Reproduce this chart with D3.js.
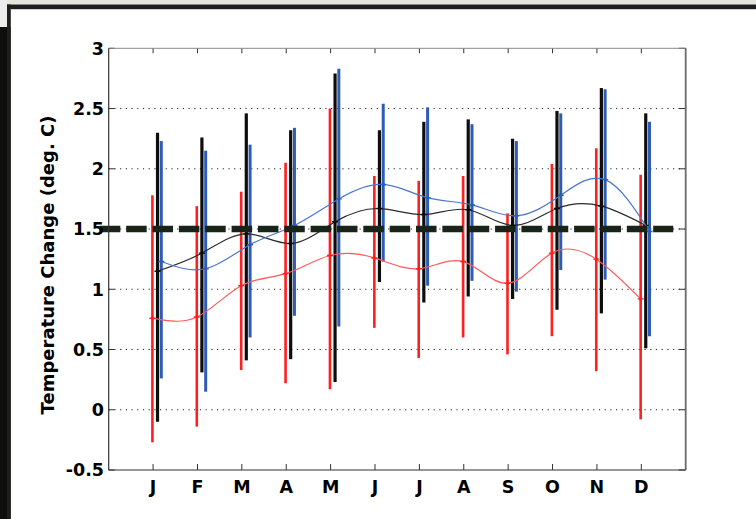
<!DOCTYPE html>
<html><head><meta charset="utf-8">
<script src="https://cdn.jsdelivr.net/npm/d3@7"></script>
<style>body{margin:0;background:#fff}svg{display:block}</style>
</head><body><svg id="c" width="756" height="519"></svg>
<script>
// ---- data ----
const months = ["J","F","M","A","M","J","J","A","S","O","N","D"];
const yTicks = [-0.5, 0, 0.5, 1, 1.5, 2, 2.5, 3];
const yTickLabels = ["-0.5","0","0.5","1","1.5","2","2.5","3"];
const threshold = 1.5;

const redLow   = [-0.27,-0.14,0.33,0.22,0.17,0.68,0.43,0.60,0.46,0.61,0.32,-0.08];
const redHigh  = [1.78,1.69,1.81,2.05,2.50,1.94,1.90,1.94,1.63,2.04,2.17,1.95];
const redMean  = [0.76,0.77,1.03,1.13,1.28,1.26,1.17,1.23,1.05,1.30,1.25,0.92];

const blackLow  = [-0.10,0.31,0.41,0.42,0.23,1.06,0.89,0.94,0.92,0.83,0.80,0.51];
const blackHigh = [2.30,2.26,2.46,2.32,2.79,2.32,2.39,2.41,2.25,2.48,2.67,2.46];
const blackMean = [1.15,1.30,1.46,1.38,1.56,1.67,1.62,1.66,1.53,1.67,1.69,1.53];

const blueLow  = [0.26,0.15,0.60,0.78,0.69,1.23,1.03,1.07,0.98,1.16,1.08,0.61];
const blueHigh = [2.23,2.15,2.20,2.34,2.83,2.54,2.51,2.37,2.23,2.46,2.66,2.39];
const blueMean = [1.23,1.17,1.37,1.53,1.75,1.87,1.76,1.70,1.61,1.78,1.91,1.48];

// ---- layout ----
const svg = d3.select("#c");
const L = 108.7, R = 685.7, T = 48.3, B = 470;
const x = d3.scaleLinear().domain([0, 13]).range([L, R]);
const y = d3.scaleLinear().domain([-0.5, 3]).range([B, T]);

// background frame
svg.append("rect").attr("x",0).attr("y",0).attr("width",756).attr("height",519).attr("fill","#fff");
svg.append("rect").attr("x",0).attr("y",0).attr("width",756).attr("height",4.5).attr("fill","#e3e6dc");
svg.append("rect").attr("x",0).attr("y",0).attr("width",7).attr("height",27).attr("fill","#ececec");
svg.append("rect").attr("x",0).attr("y",27).attr("width",10.5).attr("height",492).attr("fill","#0e0f0c");
svg.append("rect").attr("x",7).attr("y",4.5).attr("width",749).attr("height",4.5).attr("fill","#1e1e1e");
svg.append("rect").attr("x",7).attr("y",4.5).attr("width",3.8).attr("height",514.5).attr("fill","#1e1e1e");
svg.append("rect").attr("x",10.8).attr("y",9).attr("width",745).attr("height",1).attr("fill","#cfcfcf");

const font = "'DejaVu Sans', sans-serif";

// grid
yTicks.forEach(v => {
  if (v === -0.5 || v === 3) return;
  svg.append("line").attr("x1",L).attr("x2",R).attr("y1",y(v)).attr("y2",y(v))
    .attr("stroke","#222").attr("stroke-width",1).attr("stroke-dasharray","1.2,4.5");
});

// ticks
yTicks.forEach(v => {
  svg.append("line").attr("x1",L).attr("x2",L+6).attr("y1",y(v)).attr("y2",y(v)).attr("stroke","#333");
  svg.append("line").attr("x1",R-7).attr("x2",R).attr("y1",y(v)).attr("y2",y(v)).attr("stroke","#333");
});
months.forEach((m,i) => {
  const xi = x(i+1);
  svg.append("line").attr("x1",xi).attr("x2",xi).attr("y1",B).attr("y2",B-6).attr("stroke","#333");
  svg.append("line").attr("x1",xi).attr("x2",xi).attr("y1",T).attr("y2",T+5).attr("stroke","#333");
});

// series
const series = [
  {low: redLow,   high: redHigh,   mean: redMean,   off: -0.015, bar: "#ff1f1f", line: "#ff5a5a", w: 2.6},
  {low: blackLow, high: blackHigh, mean: blackMean, off: 0.10,   bar: "#0d0d0d", line: "#2a2a2a", w: 3.2},
  {low: blueLow,  high: blueHigh,  mean: blueMean,  off: 0.185,  bar: "#2c5cb5", line: "#4a78cc", w: 3.0}
];

series.forEach(s => {
  svg.append("g").selectAll("line").data(months).join("line")
    .attr("x1",(d,i)=>x(i+1+s.off)).attr("x2",(d,i)=>x(i+1+s.off))
    .attr("y1",(d,i)=>y(s.low[i])).attr("y2",(d,i)=>y(s.high[i]))
    .attr("stroke", s.bar).attr("stroke-width", s.w);
});

const lineGen = d3.line().x(d=>x(d[0])).y(d=>y(d[1])).curve(d3.curveNatural);
series.forEach(s => {
  const pts = s.mean.map((v,i)=>[i+1+s.off, v]);
  svg.append("path").attr("d", lineGen(pts)).attr("fill","none")
    .attr("stroke", s.line).attr("stroke-width",1.2);
  const g = svg.append("g");
  pts.forEach(p => {
    const px = x(p[0]), py = y(p[1]);
    g.append("path").attr("d",`M${px-3},${py}H${px+3}M${px},${py-3}V${py+3}`)
      .attr("stroke", s.bar).attr("stroke-width",1.4);
    g.append("circle").attr("cx",px).attr("cy",py).attr("r",1.5).attr("fill",s.bar);
  });
});

// threshold dashed line
svg.append("line").attr("x1",x(-0.2)).attr("x2",x(12.72))
  .attr("y1",y(threshold)).attr("y2",y(threshold))
  .attr("stroke","#172417").attr("stroke-width",6.5).attr("stroke-dasharray","20.5,5.85");

// axes box
svg.append("line").attr("x1",L).attr("x2",R).attr("y1",T).attr("y2",T).attr("stroke","#888").attr("stroke-width",1);
svg.append("line").attr("x1",R).attr("x2",R).attr("y1",T).attr("y2",B).attr("stroke","#6a6a6a").attr("stroke-width",1.8);
svg.append("line").attr("x1",L).attr("x2",L).attr("y1",T).attr("y2",B).attr("stroke","#333").attr("stroke-width",1.2);
svg.append("line").attr("x1",L).attr("x2",R).attr("y1",B).attr("y2",B).attr("stroke","#333").attr("stroke-width",1.2);

// tick labels
yTicks.forEach((v,i) => {
  svg.append("text").attr("x",104).attr("y",y(v)).attr("dy","0.36em")
    .attr("text-anchor","end").attr("font-family",font).attr("font-weight","bold")
    .attr("font-size",17.5).attr("fill","#000").text(yTickLabels[i]);
});
months.forEach((m,i) => {
  svg.append("text").attr("x",x(i+1)).attr("y",493).attr("text-anchor","middle")
    .attr("font-family",font).attr("font-weight","bold").attr("font-size",17.5).attr("fill","#000").text(m);
});

svg.append("text").attr("transform","translate(53.5,265) rotate(-90)")
  .attr("text-anchor","middle").attr("font-family",font).attr("font-weight","bold")
  .attr("font-size",18).attr("fill","#000").text("Temperature Change (deg. C)");
</script></body></html>
